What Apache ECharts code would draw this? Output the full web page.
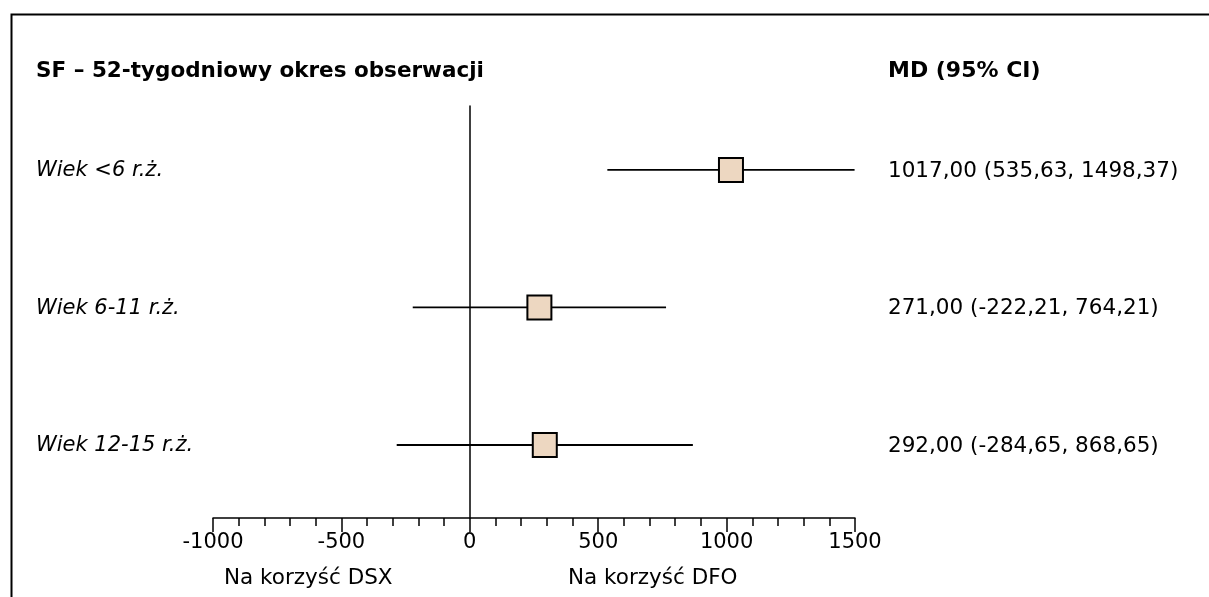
<!DOCTYPE html>
<html>
<head>
<meta charset="utf-8">
<script src="https://cdn.jsdelivr.net/npm/echarts@6/dist/echarts.min.js"></script>
<style>
  html, body { margin: 0; padding: 0; background: #fff; }
  #chart { width: 1209px; height: 597px; }
</style>
</head>
<body>
<div id="chart"></div>
<script>
var groups = ['Wiek <6 r.ż.', 'Wiek 6-11 r.ż.', 'Wiek 12-15 r.ż.'];
var md = [1017.00, 271.00, 292.00];
var lower = [535.63, -222.21, -284.65];
var upper = [1498.37, 764.21, 868.65];
var xTicks = [-1000, -500, 0, 500, 1000, 1500];
var sideLabels = ['Na korzyść DSX', 'Na korzyść DFO'];

function fmt(v) {
    return v.toFixed(2).replace('.', ',');
}

var rows = groups.map(function(g, i) {
    return [i, md[i], lower[i], upper[i]];
});

var chart = echarts.init(document.getElementById('chart'));

var option = {
    animation: false,
    grid: { left: 213, right: 354, top: 106, height: 412 },
    xAxis: {
        type: 'value',
        min: xTicks[0],
        max: xTicks[xTicks.length - 1],
        interval: 500,
        axisLine: { onZero: false, lineStyle: { color: '#000', width: 1.5 } },
        axisTick: { show: true, length: 14, lineStyle: { color: '#000', width: 1.5 } },
        minorTick: { show: true, splitNumber: 5, length: 8, lineStyle: { color: '#000', width: 1.5 } },
        splitLine: { show: false },
        axisLabel: {
            color: '#000', fontSize: 21, fontFamily: 'DejaVu Sans', margin: 14,
            formatter: function(v) { return String(v); }
        }
    },
    yAxis: {
        type: 'value',
        inverse: true,
        min: -0.465,
        max: 2.531,
        axisLine: { show: true, lineStyle: { color: '#000', width: 1.5 } },
        axisTick: { show: false },
        axisLabel: { show: false },
        splitLine: { show: false }
    },
    graphic: [
        { type: 'rect', left: 9, top: 12, shape: { width: 1300, height: 700 },
          style: { fill: 'none', stroke: '#000', lineWidth: 2 }, silent: true },
        { type: 'text', x: 36, y: 71,
          style: { text: 'SF – 52-tygodniowy okres obserwacji', font: 'bold 21.5px "DejaVu Sans"', fill: '#000', verticalAlign: 'middle' } },
        { type: 'text', x: 888, y: 71,
          style: { text: 'MD (95% CI)', font: 'bold 22px "DejaVu Sans"', fill: '#000', verticalAlign: 'middle' } },
        { type: 'text', x: 224, y: 578,
          style: { text: sideLabels[0], font: '21.5px "DejaVu Sans"', fill: '#000', verticalAlign: 'middle' } },
        { type: 'text', x: 568, y: 578,
          style: { text: sideLabels[1], font: '21.5px "DejaVu Sans"', fill: '#000', verticalAlign: 'middle' } }
    ],
    series: [{
        type: 'custom',
        data: rows,
        encode: { x: [1, 2, 3], y: 0 },
        renderItem: function(params, api) {
            var r = api.value(0);
            var c = api.coord([api.value(1), r]);
            var lo = api.coord([api.value(2), r]);
            var hi = api.coord([api.value(3), r]);
            var s = 24;
            var i = params.dataIndex;
            return {
                type: 'group',
                children: [
                    { type: 'line', shape: { x1: lo[0], y1: lo[1], x2: hi[0], y2: hi[1] },
                      style: { stroke: '#000', lineWidth: 1.8 } },
                    { type: 'rect', shape: { x: c[0] - s / 2, y: c[1] - s / 2, width: s, height: s },
                      style: { fill: '#EDD7C1', stroke: '#000', lineWidth: 2 } },
                    { type: 'text', x: 36, y: c[1] + 1,
                      style: { text: groups[i], font: 'italic 21px "DejaVu Sans"', fill: '#000', verticalAlign: 'middle' } },
                    { type: 'text', x: 888, y: c[1] + 1,
                      style: { text: fmt(md[i]) + ' (' + fmt(lower[i]) + ', ' + fmt(upper[i]) + ')',
                               font: '21.5px "DejaVu Sans"', fill: '#000', verticalAlign: 'middle' } }
                ]
            };
        }
    }]
};

chart.setOption(option);
</script>
</body>
</html>
